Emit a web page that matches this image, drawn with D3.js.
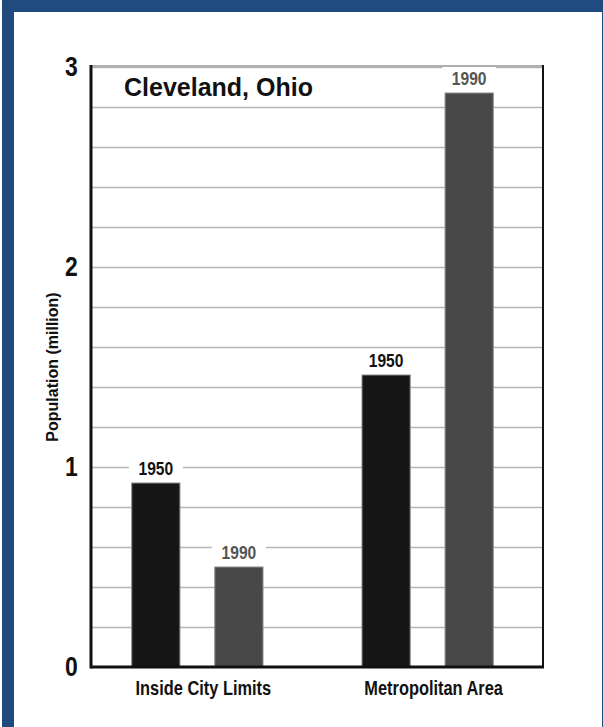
<!DOCTYPE html>
<html>
<head>
<meta charset="utf-8">
<script src="https://cdn.jsdelivr.net/npm/d3@7"></script>
<style>
  body { margin: 0; background: #fff; }
  svg text { font-family: "Liberation Sans", Arial, sans-serif; font-weight: bold; }
</style>
</head>
<body>
<svg id="chart" width="603" height="727"></svg>
<script>
// chart data
var categories = ["Inside City Limits", "Metropolitan Area"];
var years = ["1950", "1990"];
var pop1950 = [0.92, 1.46];
var pop1990 = [0.50, 2.87];
var yTicks = [0, 1, 2, 3];

var svg = d3.select("#chart");
var plotL = 91, plotR = 543, plotT = 67, plotB = 667;
var narrow = 0.82; // squeeze text to look like a condensed face

// blue frame, cut off at the right and bottom like the original
svg.append("rect")
  .attr("x", 8).attr("y", 6)
  .attr("width", 600).attr("height", 727)
  .attr("fill", "none")
  .attr("stroke", "#1f4b7f")
  .attr("stroke-width", 12);

var y = d3.scaleLinear().domain([0, 3]).range([plotB, plotT]);
var x0 = d3.scaleBand().domain(categories).range([85, 540])
  .paddingInner(0.43).paddingOuter(0.203);
var x1 = d3.scaleBand().domain(years).range([0, x0.bandwidth()])
  .paddingInner(0.42);

// grid lines
svg.append("g")
  .attr("transform", "translate(" + plotL + ",0)")
  .call(d3.axisLeft(y).tickValues(d3.range(1, 16).map(function(i) { return i * 0.2; }))
    .tickSize(-(plotR - plotL)).tickFormat(""))
  .call(function(g) {
    g.select(".domain").remove();
    g.selectAll("line").attr("stroke", "#b4b4b4").attr("stroke-width", 1.5);
  });

// y tick labels
svg.append("g")
  .attr("transform", "translate(" + plotL + ",0)")
  .call(d3.axisLeft(y).tickValues(yTicks).tickSize(0).tickPadding(16).tickFormat(d3.format("d")))
  .call(function(g) {
    g.select(".domain").remove();
    g.selectAll("text")
      .attr("fill", "#111")
      .attr("transform", "scale(" + narrow + ",1)")
      .style("font-size", "28px")
      .style("font-family", "'Liberation Sans', Arial, sans-serif")
      .style("font-weight", "bold");
  });

var rows = categories.map(function(c, i) {
  return { cat: c, vals: [{ year: "1950", v: pop1950[i] }, { year: "1990", v: pop1990[i] }] };
});

var groups = svg.selectAll("g.grp")
  .data(rows)
  .enter().append("g")
    .attr("class", "grp")
    .attr("transform", function(d) { return "translate(" + x0(d.cat) + ",0)"; });

groups.selectAll("rect.bar")
  .data(function(d) { return d.vals; })
  .enter().append("rect")
    .attr("class", "bar")
    .attr("x", function(d) { return x1(d.year); })
    .attr("y", function(d) { return y(d.v); })
    .attr("width", x1.bandwidth())
    .attr("height", function(d) { return plotB - y(d.v); })
    .attr("fill", function(d) { return d.year === "1950" ? "#161616" : "#484848"; })
    .attr("stroke", "#8a8a8a")
    .attr("stroke-width", 1);

// year labels with white backing over the grid
groups.selectAll("rect.lblbg")
  .data(function(d) { return d.vals; })
  .enter().append("rect")
    .attr("class", "lblbg")
    .attr("x", function(d) { return x1(d.year) + x1.bandwidth() / 2 - 27; })
    .attr("y", function(d) { return y(d.v) - 26; })
    .attr("width", 54)
    .attr("height", 20)
    .attr("fill", "#fff");

groups.selectAll("text.yr")
  .data(function(d) { return d.vals; })
  .enter().append("text")
    .attr("class", "yr")
    .attr("transform", function(d) {
      return "translate(" + (x1(d.year) + x1.bandwidth() / 2) + "," + (y(d.v) - 8) + ") scale(" + narrow + ",1)";
    })
    .attr("text-anchor", "middle")
    .attr("font-size", 19)
    .attr("fill", function(d) { return d.year === "1950" ? "#111" : "#555"; })
    .text(function(d) { return d.year; });

// category labels
svg.selectAll("text.cat")
  .data(categories)
  .enter().append("text")
    .attr("class", "cat")
    .attr("transform", function(d) {
      return "translate(" + (x0(d) + x0.bandwidth() / 2 + 6) + ",695) scale(" + narrow + ",1)";
    })
    .attr("text-anchor", "middle")
    .attr("font-size", 20)
    .attr("fill", "#111")
    .text(function(d) { return d; });

// frame lines of the plot
svg.append("line").attr("x1", plotL).attr("x2", plotR).attr("y1", plotT - 1).attr("y2", plotT - 1)
  .attr("stroke", "#999").attr("stroke-width", 1.5);
svg.append("line").attr("x1", plotR).attr("x2", plotR).attr("y1", plotT - 2).attr("y2", plotB)
  .attr("stroke", "#111").attr("stroke-width", 2);
svg.append("line").attr("x1", plotL).attr("x2", plotL).attr("y1", plotT - 2).attr("y2", plotB + 1.5)
  .attr("stroke", "#111").attr("stroke-width", 3);
svg.append("line").attr("x1", plotL).attr("x2", plotR + 1).attr("y1", plotB).attr("y2", plotB)
  .attr("stroke", "#111").attr("stroke-width", 3);

// title
svg.append("text")
  .attr("x", 124).attr("y", 96)
  .attr("font-size", 25)
  .attr("fill", "#111")
  .text("Cleveland, Ohio");

// y axis title
svg.append("text")
  .attr("transform", "translate(58,367) rotate(-90)")
  .attr("text-anchor", "middle")
  .attr("font-size", 16)
  .attr("fill", "#111")
  .text("Population (million)");
</script>
</body>
</html>
